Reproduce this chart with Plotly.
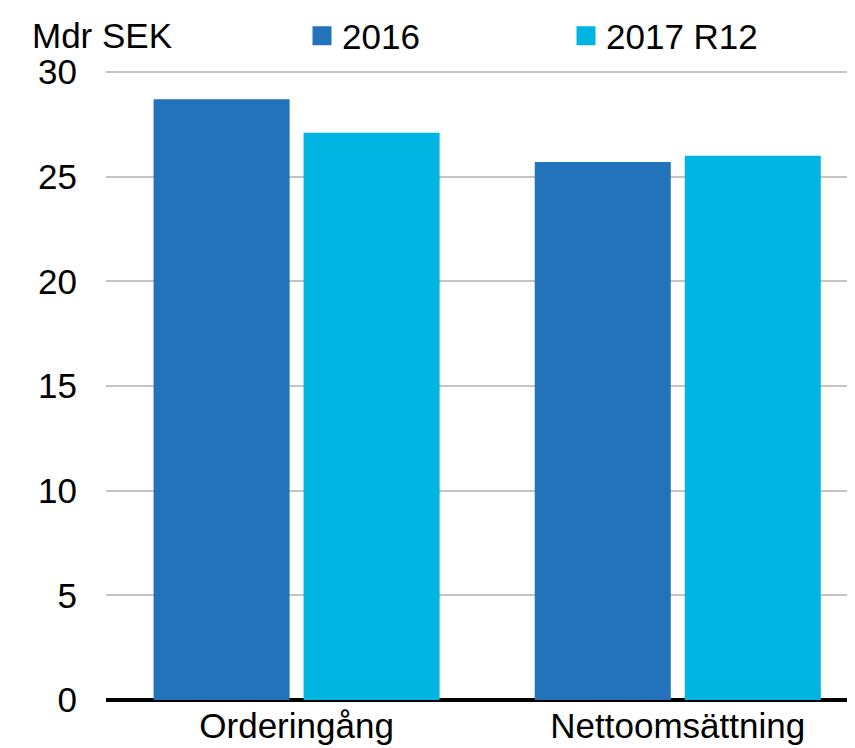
import plotly.graph_objects as go

categories = ["Orderingång", "Nettoomsättning"]
series_names = ["2016", "2017 R12"]
values_2016 = [28.7, 25.7]
values_2017 = [27.1, 26.0]
y_ticks = [0, 5, 10, 15, 20, 25, 30]

colors = ["#2273BA", "#00B5E2"]
FONT = "Liberation Sans, Arial, sans-serif"
FS = 35

fig = go.Figure()
for name, vals, col in zip(series_names, [values_2016, values_2017], colors):
    fig.add_trace(go.Bar(x=categories, y=vals, name=name, showlegend=False,
                         marker=dict(color=col, line=dict(width=0))))
    # legend-only square markers (larger than the default bar legend swatch)
    fig.add_trace(go.Scatter(x=[categories[0]], y=[None], name=name, mode="markers",
                             marker=dict(symbol="square", size=16, color=col,
                                         line=dict(width=3, color=col)),
                             hoverinfo="skip"))

fig.update_layout(
    width=855, height=748,
    margin=dict(l=98, r=0, t=63, b=56, autoexpand=False),
    paper_bgcolor="white", plot_bgcolor="white",
    barmode="group", bargap=0.213, bargroupgap=0.093,
    font=dict(family=FONT, size=FS, color="black"),
    showlegend=True,
    legend=dict(orientation="h", x=(294 - 98) / 757, y=(692 - 28) / 629,
                xanchor="left", yanchor="middle",
                font=dict(size=FS), entrywidth=219, entrywidthmode="pixels",
                itemsizing="trace",
                bgcolor="rgba(0,0,0,0)", itemclick=False, itemdoubleclick=False),
    xaxis=dict(range=[-0.5, 1.486], showgrid=False, showline=False, ticks="",
               tickfont=dict(size=FS), automargin=False, ticklabelstandoff=2),
    yaxis=dict(range=[0, 30.05], tickvals=y_ticks, showgrid=True, gridcolor="#C4C4C4",
               gridwidth=2, zeroline=True, zerolinecolor="black", zerolinewidth=4,
               showline=False, ticks="", tickfont=dict(size=FS), automargin=False,
               ticklabelstandoff=28),
    annotations=[dict(text="Mdr SEK", x=(22 - 98) / 757, y=(692 - 27) / 629,
                      xref="paper", yref="paper", xanchor="left", yanchor="middle",
                      showarrow=False, font=dict(size=FS))],
)

fig.write_html("out.html")
